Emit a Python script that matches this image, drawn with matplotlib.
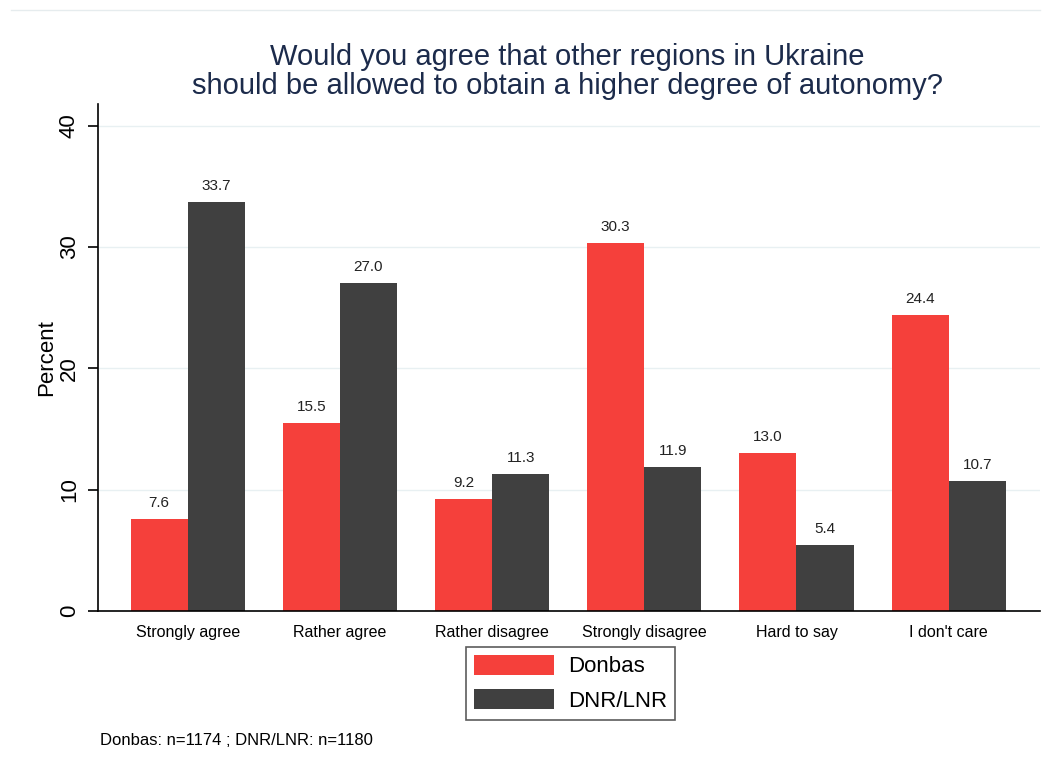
# Bar chart: agreement on autonomy for other regions, Donbas vs DNR/LNR

import numpy as np
import matplotlib.pyplot as plt

plt.rcParams['font.family'] = ['Liberation Sans', 'DejaVu Sans']

categories = ["Strongly agree", "Rather agree", "Rather disagree",
              "Strongly disagree", "Hard to say", "I don't care"]
donbas = [7.6, 15.5, 9.2, 30.3, 13.0, 24.4]
dnr_lnr = [33.7, 27.0, 11.3, 11.9, 5.4, 10.7]
yticks = [0, 10, 20, 30, 40]

red = "#F5403B"
dark = "#404040"

fig = plt.figure(figsize=(10.51, 7.73), dpi=100)
ax = fig.add_axes([0.0932, 0.2096, 0.8963, 0.656])

x = np.arange(len(categories))
w = 0.375
b1 = ax.bar(x - w / 2, donbas, w, color=red, label="Donbas", zorder=2)
b2 = ax.bar(x + w / 2, dnr_lnr, w, color=dark, label="DNR/LNR", zorder=2)

for bars, vals in [(b1, donbas), (b2, dnr_lnr)]:
    for rect, v in zip(bars, vals):
        ax.text(rect.get_x() + rect.get_width() / 2, v + 0.75, "%.1f" % v,
                ha="center", va="bottom", fontsize=11, color="#222222")

ax.set_xlim(-0.59, 5.6)
ax.set_ylim(0, 41.8)
ax.set_yticks(yticks)
ax.set_yticklabels(yticks, rotation=90, va="center", fontsize=16)
ax.set_xticks(x)
ax.set_xticklabels(categories, fontsize=11.5)
ax.tick_params(axis="x", length=0, pad=10)
ax.tick_params(axis="y", length=7, width=1.2, pad=6)
ax.yaxis.grid(True, color="#E8F0F2", linewidth=1, zorder=0)
ax.set_axisbelow(True)

for s in ["top", "right"]:
    ax.spines[s].set_visible(False)
ax.spines["left"].set_linewidth(1.2)
ax.spines["bottom"].set_linewidth(1.2)

ax.set_ylabel("Percent", fontsize=16)
ax.yaxis.set_label_coords(-0.043, 0.5)

fig.text(0.540, 0.907, "Would you agree that other regions in Ukraine\n"
         "should be allowed to obtain a higher degree of autonomy?",
         ha="center", va="center", fontsize=21, color="#1C2B4B",
         linespacing=1.05)

leg = fig.legend(loc="center", bbox_to_anchor=(0.543, 0.116), ncol=1,
                 fontsize=16, frameon=True, fancybox=False,
                 edgecolor="#333333", handlelength=3.6, handleheight=1.0,
                 borderpad=0.35, labelspacing=0.55, handletextpad=0.65,
                 borderaxespad=0)
leg.get_frame().set_linewidth(1.2)

fig.text(0.095, 0.042, "Donbas: n=1174 ; DNR/LNR: n=1180", fontsize=12,
         ha="left", va="center")

# thin light border line at the top
fig.add_artist(plt.Line2D([0.01, 0.99], [0.987, 0.987], color="#E6ECEE",
                          linewidth=1, transform=fig.transFigure))

fig.savefig("out.png", dpi=100)
